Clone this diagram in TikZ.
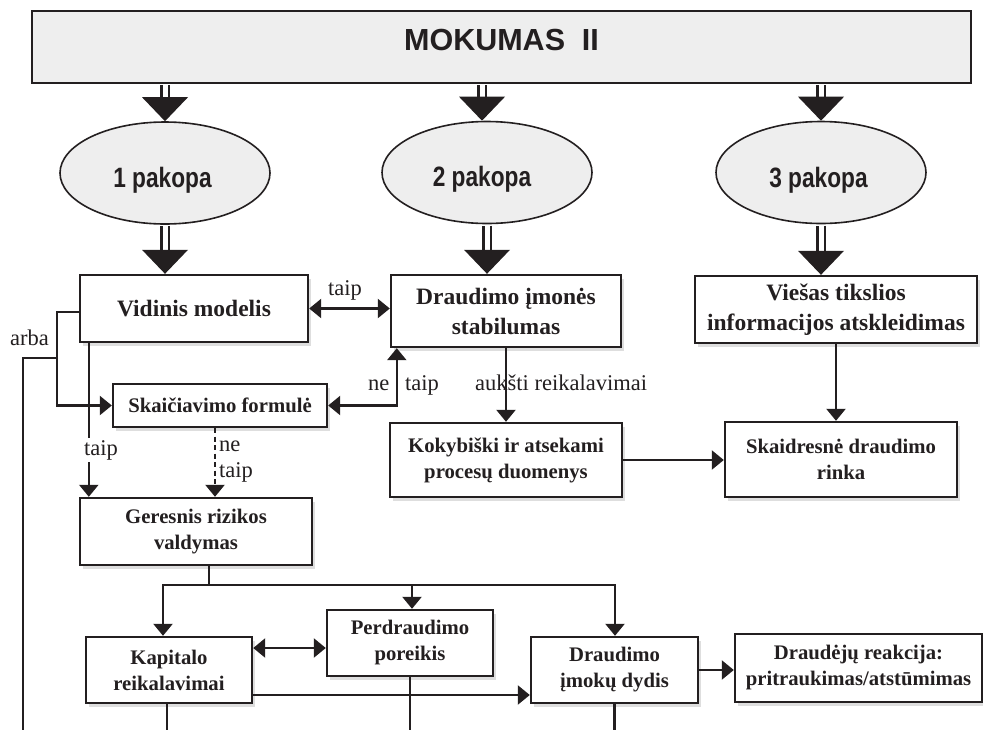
\documentclass[tikz,border=0pt]{standalone}
\usepackage{fontspec}
\setmainfont{Liberation Serif}
\newfontfamily\headfont{Liberation Sans}
\newfontfamily\condfont[FakeStretch=0.81]{Liberation Sans}
\usetikzlibrary{arrows.meta,shapes.geometric,shadows,calc}
\definecolor{ink}{HTML}{231F20}
\definecolor{boxgray}{HTML}{EEEEEE}
\newcommand\BigArr[2]{%
  \draw[shaft, shorten <=1.2pt, shorten >=22pt] (#1) -- (#2);
  \fill[ink] (#2) -- ++(-23,-24) -- ++(46,0) -- cycle;}
\begin{document}
\begin{tikzpicture}[x=1pt,y=-1pt,
  >={Triangle[length=12pt,width=19pt]},
  every node/.style={text=ink},
  bx/.style={draw=ink, line width=2.4pt, fill=white, align=center, inner sep=0pt,
    drop shadow={shadow xshift=2.5pt, shadow yshift=-3.5pt, opacity=0.13, fill=black}},
  bigtxt/.style={font=\fontsize{23.5}{30}\selectfont\bfseries},
  smtxt/.style={font=\fontsize{20.7}{26}\selectfont\bfseries},
  lab/.style={font=\fontsize{22.5}{26}\selectfont, inner sep=0pt},
  ln/.style={draw=ink, line width=2.4pt},
  arr/.style={ln,->},
  ell/.style={ellipse, draw=ink, line width=1.6pt, fill=boxgray,
    minimum width=210pt, minimum height=102pt, inner sep=0pt},
  headtxt/.style={font={\condfont\fontsize{28}{32}\selectfont\bfseries}, inner sep=0pt, anchor=base},
  shaft/.style={draw=ink, double=white, double distance=5pt, line width=2.3pt},
]
\useasboundingbox (0,0) rectangle (983,729);

% header
\node[draw=ink, line width=2.4pt, fill=boxgray, minimum width=939pt, minimum height=72pt, inner sep=0pt] (top) at (501.5,47) {};
\node[font={\headfont\fontsize{30.5}{34}\selectfont\bfseries}, inner sep=0pt, anchor=base] (toptxt) at (501.5,50.5) {MOKUMAS\hspace{0.55em}II};

% stages
\node[ell] (e1) at (165,173) {};
\node[ell] (e2) at (487,172.5) {};
\node[ell] (e3) at (821,172.5) {};
\node[headtxt] (t1) at (162.5,187) {1 pakopa};
\node[headtxt] (t2) at (482,186.5) {2 pakopa};
\node[headtxt] (t3) at (818.5,187) {3 pakopa};

% boxes
\node[bx,bigtxt,minimum width=228pt,minimum height=67pt] (vid) at (194,308.5) {Vidinis modelis};
\node[bx,bigtxt,minimum width=230pt,minimum height=72pt] (dis) at (506,311) {Draudimo įmonės\\stabilumas};
\node[bx,bigtxt,minimum width=282pt,minimum height=67pt] (vie) at (836,309.5) {Viešas tikslios\\informacijos atskleidimas};
\node[bx,smtxt,minimum width=214pt,minimum height=43pt] (ska) at (220,405.5) {Skaičiavimo formulė};
\node[bx,smtxt,minimum width=232pt,minimum height=74pt] (kok) at (506,460) {Kokybiški ir atsekami\\procesų duomenys};
\node[bx,smtxt,minimum width=232pt,minimum height=75pt] (ski) at (841,459.5) {Skaidresnė draudimo\\rinka};
\node[bx,smtxt,minimum width=232pt,minimum height=67pt] (ger) at (196,531.5) {Geresnis rizikos\\valdymas};
\node[bx,smtxt,minimum width=166pt,minimum height=66pt] (kap) at (169,670) {Kapitalo\\reikalavimai};
\node[bx,smtxt,minimum width=166pt,minimum height=66pt] (per) at (410,643) {Perdraudimo\\poreikis};
\node[bx,smtxt,minimum width=167pt,minimum height=66pt] (imo) at (614.5,670) {Draudimo\\įmokų dydis};
\node[bx,smtxt,minimum width=247pt,minimum height=68pt] (dre) at (858.5,668) {Draudėjų reakcija:\\pritraukimas/atstūmimas};

% big double arrows
\coordinate (e2t) at ([xshift=-5pt]e2.north);
\BigArr{top.south -| e1}{e1.north}
\BigArr{top.south -| e2t}{e2t}
\BigArr{top.south -| e3}{e3.north}
\BigArr{e1.south}{e1 |- vid.north}
\BigArr{e2.south}{e2 |- dis.north}
\BigArr{e3.south}{e3 |- vie.north}

% connectors
\draw[arr,<->] (vid.east) -- (vid.east -| dis.west);
\node[lab, anchor=base west] (lt1) at (328,295) {taip};

\coordinate (vw) at ([yshift=-3.5pt]vid.west);
\draw[arr] (vw) -- ++(-22,0) |- (ska.west);
\coordinate (j) at (58,358);
\coordinate (leftend) at (23,745);
\draw[ln] (j) -| (leftend);
\node[lab, anchor=base west] (larba) at (10,345) {arba};

\coordinate (vs) at ([xshift=10pt]vid.south west);
\draw[arr] (vs) -- (vs |- ger.north);
\node[lab, anchor=base west, fill=white, inner sep=2pt] (lt2) at (82,455) {taip};

\coordinate (ss) at ([xshift=-5pt]ska.south);
\draw[arr, dash pattern=on 5pt off 3.5pt] (ss) -- (ss |- ger.north);
\node[lab, anchor=base west] (lne2) at (219,451) {ne};
\node[lab, anchor=base west] (lt3) at (219,477) {taip};

\coordinate (dsw) at ([xshift=7pt]dis.south west);
\draw[arr,<->] (ska.east) -| (dsw);
\node[lab, anchor=base west] (lne1) at (368,390) {ne};
\node[lab, anchor=base west] (lt4) at (405,390) {taip};

\draw[arr] (dis.south) -- (kok.north);
\node[lab, anchor=base west] (lauk) at (475,390) {aukšti reikalavimai};

\draw[arr] (vie.south) -- (vie.south |- ski.north);
\draw[arr] (kok.east) -- (kok.east -| ski.west);

\coordinate (hub) at (209,585);
\draw[ln] (ger.south -| hub) -- (hub);
\draw[arr] (hub) -| ([xshift=-6pt]kap.north);
\draw[arr] (hub) -| ([xshift=2pt]per.north);
\draw[arr] (hub) -| ([xshift=0.5pt]imo.north);

\draw[arr,<->] ([yshift=22pt]kap.east) -- ([yshift=22pt]kap.east -| per.west);
\draw[arr] ([yshift=-25pt]kap.east) -- ([yshift=-25pt]kap.east -| imo.west);
\draw[arr] (imo.east) -- (imo.east -| dre.west);

\draw[ln] ([xshift=-2pt]kap.south) -- ++(0,40);
\draw[ln] (per.south) -- ++(0,70);
\draw[ln] (imo.south) -- ++(0,40);
\end{tikzpicture}
\end{document}
